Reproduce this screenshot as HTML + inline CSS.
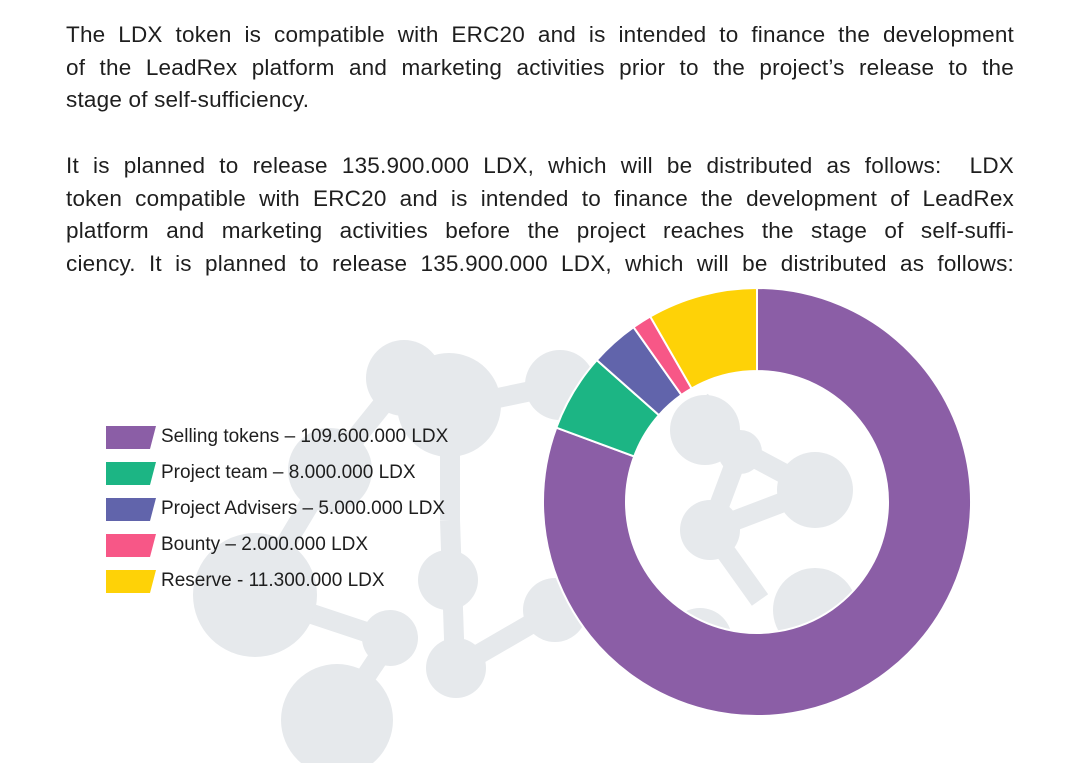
<!DOCTYPE html>
<html><head><meta charset="utf-8">
<style>
html,body{margin:0;padding:0;width:1080px;height:763px;overflow:hidden;background:#fff;font-family:"Liberation Sans",sans-serif;}
#bg{position:absolute;left:0;top:0}
.para{position:absolute;left:66px;width:948px;font-size:22.5px;color:#1e1e1e;line-height:32.5px;letter-spacing:0.2px}
.ln{text-align:justify;text-align-last:justify;white-space:nowrap;height:32.5px}
.ln.last{text-align-last:left}
.leg{position:absolute;left:106px;font-size:19px;color:#1e1e1e;height:24px;line-height:24px}
.sw{position:absolute;left:0;top:1px;width:50px;height:23px}
.lt{position:absolute;left:55px;white-space:nowrap;top:0}
</style></head><body>
<svg id="bg" width="1080" height="763">
<g fill="#e6e9ec" stroke="#e6e9ec" stroke-width="20">
<line x1="404" y1="378" x2="330" y2="470"/><line x1="450" y1="408" x2="450" y2="520"/>
<line x1="450" y1="520" x2="455" y2="668"/><line x1="330" y1="470" x2="255" y2="595"/>
<line x1="255" y1="595" x2="390" y2="640"/><line x1="390" y1="640" x2="337" y2="720"/>
<line x1="455" y1="668" x2="555" y2="610"/><line x1="450" y1="408" x2="560" y2="385"/>
<line x1="700" y1="400" x2="740" y2="450"/><line x1="740" y1="450" x2="815" y2="490"/>
<line x1="740" y1="450" x2="710" y2="530"/><line x1="710" y1="530" x2="815" y2="490"/>
<line x1="710" y1="530" x2="760" y2="600"/>
</g>
<g fill="#e6e9ec">
<circle cx="404" cy="378" r="38"/><circle cx="449" cy="405" r="52"/><circle cx="330" cy="470" r="42"/>
<circle cx="255" cy="595" r="62"/><circle cx="390" cy="638" r="28"/><circle cx="456" cy="668" r="30"/>
<circle cx="555" cy="610" r="32"/><circle cx="337" cy="720" r="56"/><circle cx="560" cy="385" r="35"/>
<circle cx="448" cy="580" r="30"/><circle cx="705" cy="430" r="35"/><circle cx="740" cy="452" r="22"/>
<circle cx="815" cy="490" r="38"/><circle cx="710" cy="530" r="30"/><circle cx="815" cy="610" r="42"/>
<circle cx="700" cy="640" r="32"/>
</g>
</svg>
<div class="para" style="top:19px">
<div class="ln">The LDX token is compatible with ERC20 and is intended to finance the development</div>
<div class="ln">of the LeadRex platform and marketing activities prior to the project’s release to the</div>
<div class="ln last">stage of self-sufficiency.</div>
</div>
<div class="para" style="top:150px">
<div class="ln">It is planned to release 135.900.000 LDX, which will be distributed as follows:&nbsp; LDX</div>
<div class="ln">token compatible with ERC20 and is intended to finance the development of LeadRex</div>
<div class="ln">platform and marketing activities before the project reaches the stage of self-suffi-</div>
<div class="ln">ciency. It is planned to release 135.900.000 LDX, which will be distributed as follows:</div>
</div>
<div id="legend"></div>
<svg id="chart" width="1080" height="763" style="position:absolute;left:0;top:0"></svg>
<script>
const categories=["Selling tokens","Project team","Project Advisers","Bounty","Reserve"];
const values=[109.6,8.0,5.0,2.0,11.3];
const labels=["Selling tokens – 109.600.000 LDX","Project team – 8.000.000 LDX","Project Advisers – 5.000.000 LDX","Bounty – 2.000.000 LDX","Reserve - 11.300.000 LDX"];
const colors=["#8b5ea6","#1cb584","#6164ab","#f75787","#fed207"];
const cx=757,cy=502,R=214,r=131;
const svg=document.getElementById('chart');const NS="http://www.w3.org/2000/svg";
const total=values.reduce((a,b)=>a+b,0);
function pt(a,rad){return [cx+rad*Math.sin(a),cy-rad*Math.cos(a)];}
let a0=0;
values.forEach((v,i)=>{
 const a1=a0+v/total*2*Math.PI;const big=(a1-a0)>Math.PI?1:0;
 const p1=pt(a0,R),p2=pt(a1,R),p3=pt(a1,r),p4=pt(a0,r);
 const p=document.createElementNS(NS,'path');
 p.setAttribute('d',`M${p1}A${R},${R} 0 ${big} 1 ${p2}L${p3}A${r},${r} 0 ${big} 0 ${p4}Z`);
 p.setAttribute('fill',colors[i]);p.setAttribute('stroke','#fff');p.setAttribute('stroke-width','2');
 
 
 svg.appendChild(p);a0=a1;
});
const leg=document.getElementById('legend');
labels.forEach((t,i)=>{
 const d=document.createElement('div');d.className='leg';d.style.top=(425+i*36)+'px';
 
 
 d.innerHTML=`<svg class="sw" width="50" height="23"><polygon points="0,0 50,0 44,23 0,23" fill="${colors[i]}"/></svg><span class="lt">${t}</span>`;
 leg.appendChild(d);
});
</script>
</body></html>
